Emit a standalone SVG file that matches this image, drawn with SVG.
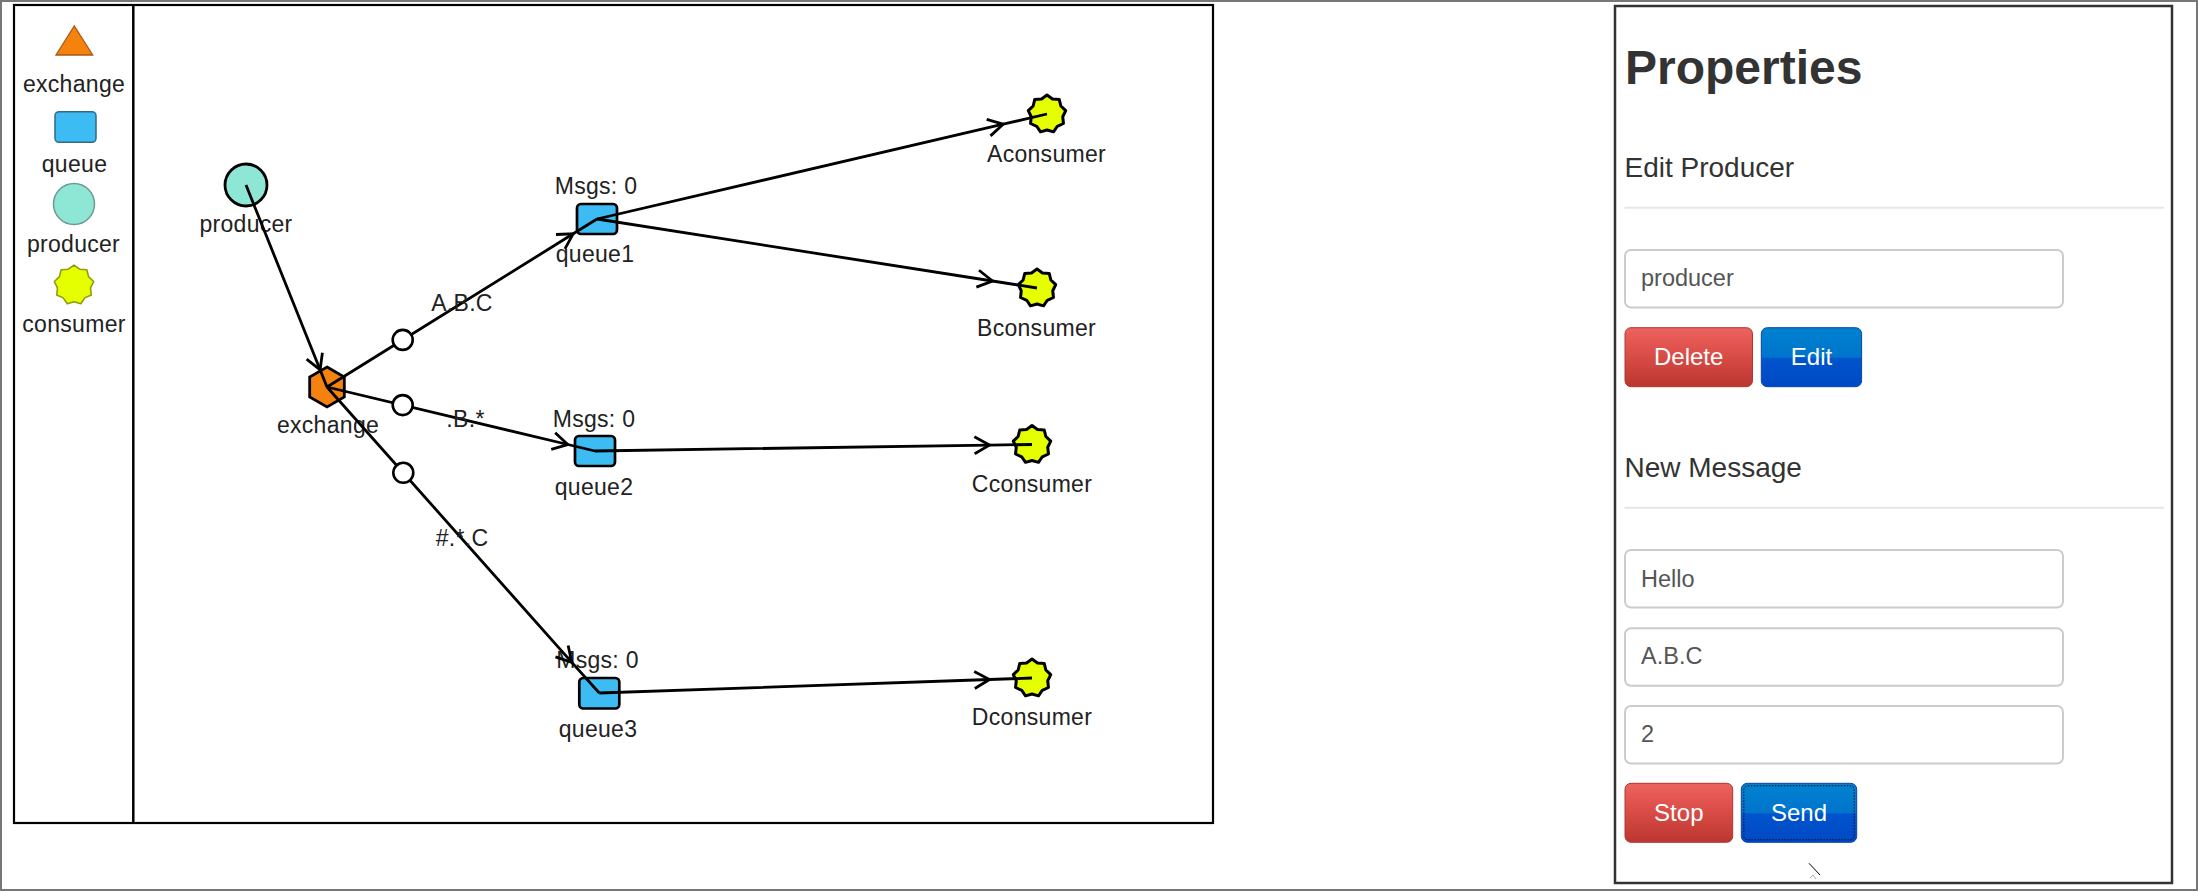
<svg xmlns="http://www.w3.org/2000/svg" width="2198" height="892" viewBox="0 0 2198 892">
<style>
.lbl{font-family:"Liberation Sans",Arial,sans-serif;font-size:23px;fill:#222;text-anchor:middle;letter-spacing:0.3px}
.edge{stroke:#000;stroke-width:2.8;fill:none;marker-mid:url(#arr)}
.knob{fill:#fff;stroke:#000;stroke-width:2.6}
.queue{fill:#3dbcf4;stroke:#000;stroke-width:2.7}
.star{fill:#e6ff00;stroke:#000;stroke-width:3;stroke-linejoin:round}
.input{fill:#fff;stroke:#cccccc;stroke-width:2}
.itxt{font-family:"Liberation Sans",Arial,sans-serif;font-size:23.5px;fill:#555}
.btxt{font-family:"Liberation Sans",Arial,sans-serif;font-size:24px;fill:#fff;text-anchor:middle}
.head{font-family:"Liberation Sans",Arial,sans-serif;font-size:28px;fill:#333}
.rule{stroke:#e6e6e6;stroke-width:2}
</style>
<defs>
<marker id="arr" markerUnits="userSpaceOnUse" viewBox="-18 -10 20 20" refX="0" refY="0" markerWidth="20" markerHeight="20" orient="auto" overflow="visible">
<path d="M-15,-8.5 L0,0 L-15,8.5" fill="none" stroke="#000" stroke-width="2.8" stroke-linejoin="miter"/>
</marker>
<path id="starshape" d="M0,-19 L5.47,-15.04 L12.22,-14.55 L13.86,-8 L18.72,-3.3 L15.75,2.77 L16.45,9.5 L10.28,12.26 L6.5,17.85 L0,16 L-6.5,17.85 L-10.28,12.26 L-16.45,9.5 L-15.75,2.77 L-18.72,-3.3 L-13.86,-8 L-12.22,-14.55 L-5.47,-15.04 Z"/>
<path id="hexshape" d="M0,-20 L17.32,-10 L17.32,10 L0,20 L-17.32,10 L-17.32,-10 Z"/>
<linearGradient id="gred" x1="0" y1="0" x2="0" y2="1">
<stop offset="0" stop-color="#ec635e"/><stop offset="0.3" stop-color="#e2544f"/><stop offset="0.6" stop-color="#d24741"/><stop offset="1" stop-color="#bb3630"/>
</linearGradient>
<linearGradient id="gblue" x1="0" y1="0" x2="0" y2="1">
<stop offset="0" stop-color="#0082d0"/><stop offset="0.5" stop-color="#0074cc"/><stop offset="0.52" stop-color="#0054cc"/><stop offset="1" stop-color="#0049c6"/>
</linearGradient>
</defs>

<rect x="0" y="0" width="2198" height="892" fill="#fff"/>
<rect x="1" y="1" width="2196" height="889" fill="none" stroke="#777" stroke-width="2"/>

<g id="canvas">
<rect x="14" y="5" width="1199" height="818" fill="#fff" stroke="#000" stroke-width="2.2"/>
<line x1="133.3" y1="5" x2="133.3" y2="823" stroke="#000" stroke-width="2.5"/>
</g>

<g id="legend-exchange">
<polygon points="56,55 92.7,55 74.3,26" fill="#f5820e" stroke="#a85a14" stroke-width="1.3"/>
<text class="lbl" x="74" y="91.7">exchange</text>
</g>
<g id="legend-queue">
<rect x="55" y="111.7" width="41" height="30.6" rx="4" fill="#3dbcf4" stroke="#2f6a86" stroke-width="1.5"/>
<text class="lbl" x="74.5" y="171.7">queue</text>
</g>
<g id="legend-producer">
<circle cx="74" cy="204" r="20.5" fill="#8ee6d4" stroke="#6d9a92" stroke-width="1.5"/>
<text class="lbl" x="73.5" y="251.7">producer</text>
</g>
<g id="legend-consumer">
<use href="#starshape" transform="translate(74,285) scale(1.05)" fill="#e6ff00" stroke="#8f9c10" stroke-width="1.5" stroke-linejoin="round"/>
<text class="lbl" x="74" y="331.7">consumer</text>
</g>

<g id="producer">
<circle cx="246" cy="185" r="21" fill="#8ee6d4" stroke="#000" stroke-width="2.8"/>
<text class="lbl" x="246" y="232">producer</text>
</g>
<g id="exchange">
<use href="#hexshape" transform="translate(327,387)" fill="#f5820e" stroke="#000" stroke-width="2.8"/>
<text class="lbl" x="328" y="433">exchange</text>
</g>
<g id="queue1">
<text class="lbl" x="596" y="194">Msgs: 0</text>
<rect class="queue" x="577" y="204" width="40" height="30" rx="4"/>
<text class="lbl" x="595" y="262">queue1</text>
</g>
<g id="queue2">
<text class="lbl" x="594" y="427">Msgs: 0</text>
<rect class="queue" x="575" y="436" width="40" height="30" rx="4"/>
<text class="lbl" x="594" y="495">queue2</text>
</g>
<g id="queue3">
<text class="lbl" x="597.5" y="668">Msgs: 0</text>
<rect class="queue" x="579.3" y="678" width="40" height="30.5" rx="4"/>
<text class="lbl" x="598" y="737">queue3</text>
</g>
<g id="Aconsumer">
<use class="star" href="#starshape" transform="translate(1047,114)"/>
<text class="lbl" x="1046.5" y="162">Aconsumer</text>
</g>
<g id="Bconsumer">
<use class="star" href="#starshape" transform="translate(1037,288)"/>
<text class="lbl" x="1036.5" y="336">Bconsumer</text>
</g>
<g id="Cconsumer">
<use class="star" href="#starshape" transform="translate(1032,444.5)"/>
<text class="lbl" x="1032" y="492">Cconsumer</text>
</g>
<g id="Dconsumer">
<use class="star" href="#starshape" transform="translate(1032,678)"/>
<text class="lbl" x="1032" y="725">Dconsumer</text>
</g>

<g id="connectors">
<path class="edge" d="M246,185 L320.1,369.8 L327,387"/>
<path class="edge" d="M327,387 L573.2,233.8 L597,219"/>
<path class="edge" d="M327,387 L567.8,444.5 L595,451"/>
<path class="edge" d="M327,387 L571.8,662.4 L599.3,693"/>
<path class="edge" d="M597,219 L1003.2,124.2 L1047,114"/>
<path class="edge" d="M597,219 L992.5,281 L1037,288"/>
<path class="edge" d="M595,451 L989.5,445.1 L1032,444.5"/>
<path class="edge" d="M599.3,693 L989.5,679.5 L1032,678"/>
<circle class="knob" cx="402.7" cy="339.9" r="10"/>
<circle class="knob" cx="402.7" cy="405.1" r="10"/>
<circle class="knob" cx="403.3" cy="472.8" r="10"/>
<text class="lbl" x="462" y="311">A.B.C</text>
<text class="lbl" x="465.5" y="427">.B.*</text>
<text class="lbl" x="462" y="546">#.*.C</text>
</g>

<g id="properties">
<rect x="1615" y="6" width="557" height="877" fill="#fff" stroke="#333" stroke-width="2.5"/>
<text x="1625" y="84" font-family="'Liberation Sans',Arial,sans-serif" font-size="48" font-weight="bold" fill="#333">Properties</text>
<text class="head" x="1624.5" y="177">Edit Producer</text>
<line class="rule" x1="1624.5" y1="207.7" x2="2164" y2="207.7"/>
<rect class="input" x="1625" y="250" width="438" height="57.5" rx="6"/>
<text class="itxt" x="1641" y="286">producer</text>
<g id="btn-delete">
<rect x="1625" y="327.7" width="127.5" height="59" rx="6" fill="url(#gred)" stroke="#b4342e" stroke-width="1"/>
<text class="btxt" x="1688.7" y="365">Delete</text>
</g>
<g id="btn-edit">
<rect x="1761.3" y="327.7" width="100.3" height="59" rx="6" fill="url(#gblue)" stroke="#0547a8" stroke-width="1"/>
<text class="btxt" x="1811.5" y="365">Edit</text>
</g>
<text class="head" x="1624.5" y="476.7">New Message</text>
<line class="rule" x1="1624.5" y1="507.7" x2="2164" y2="507.7"/>
<rect class="input" x="1625" y="550" width="438" height="57.5" rx="6"/>
<text class="itxt" x="1641" y="586.7">Hello</text>
<rect class="input" x="1625" y="628.3" width="438" height="57.5" rx="6"/>
<text class="itxt" x="1641" y="664.3">A.B.C</text>
<rect class="input" x="1625" y="706" width="438" height="57.5" rx="6"/>
<text class="itxt" x="1641" y="742.3">2</text>
<g id="btn-stop">
<rect x="1625" y="783.3" width="107.7" height="59" rx="6" fill="url(#gred)" stroke="#b4342e" stroke-width="1"/>
<text class="btxt" x="1678.8" y="821">Stop</text>
</g>
<g id="btn-send">
<rect x="1741.3" y="783.3" width="115.4" height="59" rx="6" fill="url(#gblue)" stroke="#0547a8" stroke-width="1"/>
<rect x="1743.8" y="785.8" width="110.4" height="54" rx="4" fill="none" stroke="#111" stroke-width="1" stroke-dasharray="1.5,1.5"/>
<text class="btxt" x="1799" y="821">Send</text>
</g>
<line x1="1809" y1="863.3" x2="1820" y2="875" stroke="#000" stroke-width="1"/>
<path d="M1810,878 L1813,875 L1816,879" fill="none" stroke="#aaa" stroke-width="1"/>
</g>
</svg>
